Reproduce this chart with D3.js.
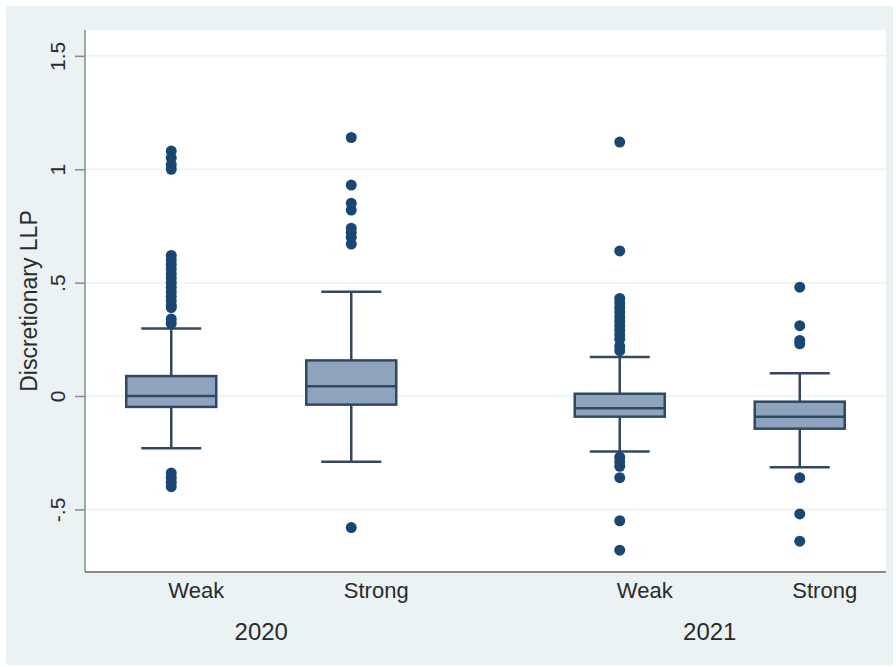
<!DOCTYPE html>
<html>
<head>
<meta charset="utf-8">
<script src="https://cdn.jsdelivr.net/npm/d3@7"></script>
<style>
  html, body { margin: 0; padding: 0; background: #ffffff; }
  svg { display: block; }
  text { font-family: "Liberation Sans", Arial, sans-serif; fill: #2a2a2a; }
</style>
</head>
<body>
<svg id="chart" width="896" height="667"></svg>
<script>
// ---- data ----
const years = ["2020", "2021"];
const strengths = ["Weak", "Strong"];
const yTicks = [-0.5, 0, 0.5, 1, 1.5];
const yTickLabels = ["-.5", "0", ".5", "1", "1.5"];
const yTitle = "Discretionary LLP";

// box statistics: [lower whisker, q1, median, q3, upper whisker]
const box2020Weak   = [-0.23, -0.048, 0.0, 0.088, 0.298];
const box2020Strong = [-0.29, -0.038, 0.043, 0.157, 0.46];
const box2021Weak   = [-0.245, -0.091, -0.054, 0.01, 0.172];
const box2021Strong = [-0.314, -0.144, -0.091, -0.025, 0.10];

const out2020Weak = [1.08, 1.05, 1.02, 1.00, 0.62, 0.60, 0.58, 0.56, 0.54, 0.52, 0.50, 0.48,
  0.46, 0.44, 0.42, 0.40, 0.39, 0.34, 0.32, -0.34, -0.36, -0.38, -0.40];
const out2020Strong = [1.14, 0.93, 0.85, 0.82, 0.74, 0.72, 0.70, 0.67, -0.58];
const out2021Weak = [1.12, 0.64, 0.43, 0.41, 0.39, 0.37, 0.35, 0.33, 0.31, 0.29, 0.27, 0.25,
  0.22, 0.20, -0.27, -0.29, -0.31, -0.36, -0.55, -0.68];
const out2021Strong = [0.48, 0.31, 0.245, 0.23, -0.36, -0.52, -0.64];

const groups = [
  { year: "2020", s: "Weak",   box: box2020Weak,   out: out2020Weak },
  { year: "2020", s: "Strong", box: box2020Strong, out: out2020Strong },
  { year: "2021", s: "Weak",   box: box2021Weak,   out: out2021Weak },
  { year: "2021", s: "Strong", box: box2021Strong, out: out2021Strong }
];

// ---- layout ----
const W = 896, H = 667;
const plot = { left: 85, right: 886, top: 30, bottom: 572 };
const svg = d3.select("#chart");

// outer background (graph region)
svg.append("rect").attr("x", 6).attr("y", 6).attr("width", W - 9).attr("height", H - 8)
  .attr("fill", "#eaf2f3");
// plot region
svg.append("rect").attr("x", plot.left).attr("y", plot.top)
  .attr("width", plot.right - plot.left).attr("height", plot.bottom - plot.top)
  .attr("fill", "#ffffff");

const y = d3.scaleLinear().domain([-0.776, 1.614]).range([plot.bottom, plot.top]);
const xYear = d3.scalePoint().domain(years).range([plot.left, plot.right]).padding(0.393);
const xIn = d3.scalePoint().domain(strengths).range([-90, 90]);
const xc = d => xYear(d.year) + xIn(d.s);

// gridlines
svg.append("g").selectAll("line").data(yTicks).join("line")
  .attr("x1", plot.left).attr("x2", plot.right)
  .attr("y1", d => y(d)).attr("y2", d => y(d))
  .attr("stroke", "#eaf2f3").attr("stroke-width", 1.5);

// y axis
const yAxis = d3.axisLeft(y).tickValues(yTicks)
  .tickFormat((d, i) => yTickLabels[i]).tickSize(10).tickPadding(8);
const gy = svg.append("g").attr("transform", `translate(${plot.left},0)`).call(yAxis);
gy.select(".domain").attr("stroke", "#8a8a8a").attr("stroke-width", 1.5)
  .attr("d", `M0,${plot.top}V${plot.bottom}`);
gy.selectAll(".tick line").attr("stroke", "#8a8a8a").attr("stroke-width", 1.5);
gy.selectAll(".tick text")
  .attr("font-size", 21).attr("fill", "#2a2a2a")
  .attr("text-anchor", "middle").attr("x", null).attr("dy", null)
  .attr("transform", "translate(-20,0) rotate(-90)")
  .attr("dominant-baseline", "auto");

// x axis line
svg.append("line").attr("x1", plot.left).attr("x2", plot.right)
  .attr("y1", plot.bottom).attr("y2", plot.bottom)
  .attr("stroke", "#8a8a8a").attr("stroke-width", 2);

// y title
svg.append("text").attr("transform", `translate(37,${(plot.top + plot.bottom) / 2}) rotate(-90)`)
  .attr("text-anchor", "middle").attr("font-size", 23).text(yTitle);

// boxes
const boxW = 90, capW = 60;
const outline = "#2e4868";
const gBox = svg.append("g");
groups.forEach(d => {
  const cx = xc(d);
  const [lo, q1, med, q3, hi] = d.box;
  const g = gBox.append("g");
  // whiskers
  g.append("line").attr("x1", cx).attr("x2", cx).attr("y1", y(q3)).attr("y2", y(hi))
    .attr("stroke", "#34475e").attr("stroke-width", 2.5);
  g.append("line").attr("x1", cx).attr("x2", cx).attr("y1", y(q1)).attr("y2", y(lo))
    .attr("stroke", "#34475e").attr("stroke-width", 2.5);
  g.append("line").attr("x1", cx - capW / 2).attr("x2", cx + capW / 2).attr("y1", y(hi)).attr("y2", y(hi))
    .attr("stroke", "#34475e").attr("stroke-width", 2.5);
  g.append("line").attr("x1", cx - capW / 2).attr("x2", cx + capW / 2).attr("y1", y(lo)).attr("y2", y(lo))
    .attr("stroke", "#34475e").attr("stroke-width", 2.5);
  // box
  g.append("rect").attr("x", cx - boxW / 2).attr("width", boxW)
    .attr("y", y(q3)).attr("height", y(q1) - y(q3))
    .attr("fill", "#8ea4bd").attr("stroke", outline).attr("stroke-width", 2.5);
  g.append("line").attr("x1", cx - boxW / 2).attr("x2", cx + boxW / 2).attr("y1", y(med)).attr("y2", y(med))
    .attr("stroke", outline).attr("stroke-width", 2.5);
  // outliers
  g.selectAll("circle").data(d.out).join("circle")
    .attr("cx", cx).attr("cy", v => y(v)).attr("r", 5.5)
    .attr("fill", "#1a4672");
});

// category labels
svg.append("g").selectAll("text").data(groups).join("text")
  .attr("x", d => xc(d) + 25).attr("y", 598)
  .attr("text-anchor", "middle").attr("font-size", 22)
  .text(d => d.s);

// year labels
svg.append("g").selectAll("text").data(years).join("text")
  .attr("x", d => xYear(d)).attr("y", 640)
  .attr("text-anchor", "middle").attr("font-size", 24)
  .text(d => d);
</script>
</body>
</html>
